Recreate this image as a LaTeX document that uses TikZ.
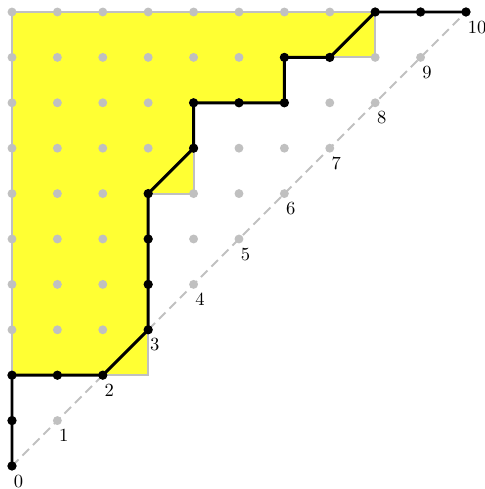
\documentclass[tikz,border=0pt]{standalone}
\usepackage{tikz}
\definecolor{area}{HTML}{FFFF33}
\definecolor{grid}{HTML}{C0C0C0}
\tikzset{
  gdot/.style={fill=grid, draw=none},
  bdot/.style={fill=black, draw=none},
  walk/.style={draw=black, line width=1.6pt, line join=round},
  rim/.style={draw=grid, line width=1pt},
  diag/.style={draw=grid, line width=1pt, dash pattern=on 5pt off 3pt},
  lbl/.style={font=\normalsize, anchor=north west, inner sep=2pt, xshift=-1.2pt, yshift=-2.5pt},
}

\begin{document}
\begin{tikzpicture}[x=0.86cm, y=0.86cm]
  \useasboundingbox (-0.264,-0.507) rectangle (10.418,10.264);
  % area above the walk
  \fill[area] (0,2) -- (0,10) -- (8,10) -- (8,9) -- (6,9) -- (6,8) -- (4,8) -- (4,6) -- (3,6) -- (3,2) -- cycle;
  \draw[rim] (0,2) -- (0,10) -- (8,10) -- (8,9) -- (6,9) -- (6,8) -- (4,8) -- (4,6) -- (3,6) -- (3,2) -- cycle;
  \draw[diag] (0,0) -- (10,10);
  \foreach \j in {0,...,10} {
    \foreach \i in {0,...,\j} { \fill[gdot] (\i,\j) circle (2.4pt); }
  }
  \foreach \k in {0,...,10} { \node[lbl] (d\k) at (\k,\k) {\k}; }
  % lattice walk
  \foreach \x/\y [count=\n from 0] in {0/0,0/1,0/2,1/2,2/2,3/3,3/4,3/5,3/6,4/7,4/8,5/8,6/8,6/9,7/9,8/10,9/10,10/10}
    \coordinate (p\n) at (\x,\y);
  \draw[walk] (p0) \foreach \n in {1,...,17} { -- (p\n) };
  \foreach \n in {0,...,17} { \fill[bdot] (p\n) circle (2.5pt); }
\end{tikzpicture}
\end{document}
